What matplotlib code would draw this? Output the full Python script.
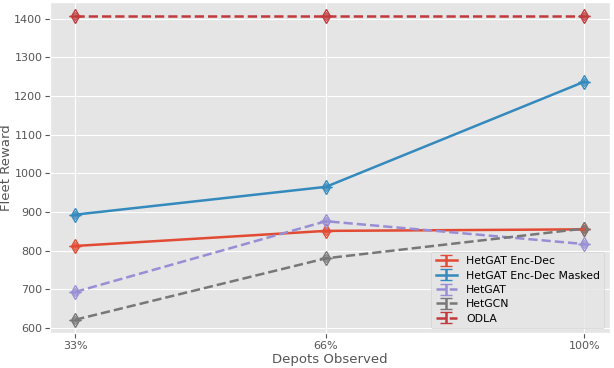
import numpy as np
from matplotlib import pyplot as plt

plt.style.use('ggplot')
plt.rcParams['font.size'] = 8
plt.rcParams['xtick.major.pad'] = 1.8
plt.rcParams['ytick.major.pad'] = 1.8

# x positions and labels
depots = [33, 66, 100]
tick_labels = ['33%', '66%', '100%']

# fleet reward per method
enc_dec = [812, 851, 855]
enc_dec_masked = [893, 965, 1237]
hetgat = [693, 876, 817]
hetgcn = [621, 780, 857]
odla = [1408, 1408, 1408]

# error bars are too small to see
err = [0, 0, 0]

series = [
    ('HetGAT Enc-Dec', enc_dec, '#E24A33', '-'),
    ('HetGAT Enc-Dec Masked', enc_dec_masked, '#348ABD', '-'),
    ('HetGAT', hetgat, '#988ED5', '--'),
    ('HetGCN', hetgcn, '#777777', '--'),
    ('ODLA', odla, '#C0393B', '--'),
]

fig = plt.figure(figsize=(6.14, 3.68), dpi=100)
ax = fig.add_axes([0.081, 0.0943, 0.912, 0.901])

for name, vals, col, ls in series:
    ax.errorbar(depots, vals, yerr=err, color=col, linestyle=ls, linewidth=1.8,
                capsize=4, label=name)
    # layered diamonds, kept out of the legend
    for ms, mew in ((7, 1.0), (4.5, 0.8), (2, 0.8)):
        ax.plot(depots, vals, linestyle='none', marker='d', markersize=ms,
                markerfacecolor='none', markeredgecolor=col, markeredgewidth=mew)

ax.set_ylim(586, 1444)
ax.set_xticks(depots)
ax.set_xticklabels(tick_labels)
ax.set_xlabel('Depots Observed', fontsize=9.5, labelpad=2)
ax.set_ylabel('Fleet Reward', fontsize=9.5, labelpad=0)
ax.yaxis.set_label_coords(-0.065, 0.5)
ax.legend(loc='lower right', fontsize=7.8, labelspacing=0.4)

plt.savefig('out.png', dpi=100)
